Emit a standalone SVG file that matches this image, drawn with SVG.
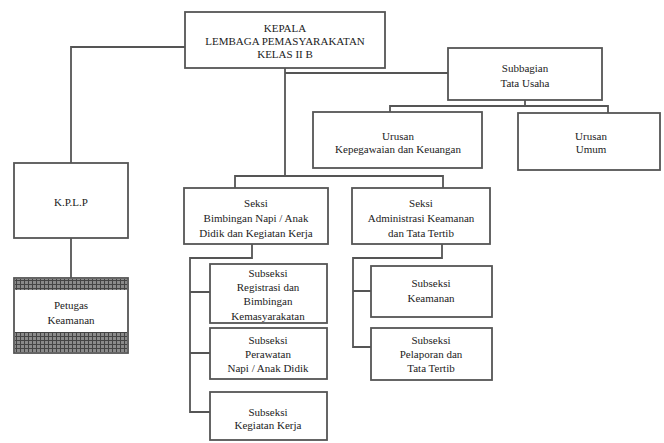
<svg xmlns="http://www.w3.org/2000/svg" width="664" height="443" viewBox="0 0 664 443">
<defs>
<pattern id="hatch" width="4" height="4" patternUnits="userSpaceOnUse">
<rect width="4" height="4" fill="#8a8a8a"/>
<path d="M0 0.5H4M0.5 0V4" stroke="#444" stroke-width="1"/>
</pattern>
</defs>
<style>
.box{fill:#fff;stroke:#555;stroke-width:1.8}
.t{font-family:"Liberation Serif","Times New Roman",serif;font-size:11px;fill:#222;text-anchor:middle}
.c{fill:none;stroke:#555;stroke-width:1.8}
</style>
<rect width="664" height="443" fill="#fff"/>
<g id="connectors">
<path class="c" d="M185 47H71V163"/>
<path class="c" d="M71 238V278"/>
<path class="c" d="M285 68V176"/>
<path class="c" d="M285 73H448"/>
<path class="c" d="M525 100V106M390 112V106H608V113"/>
<path class="c" d="M235 188V176H443V188"/>
<path class="c" d="M252 244V258H190V412H210M190 292H210M190 353H210"/>
<path class="c" d="M442 244V258H353V347H371M353 291H371"/>
</g>
<g id="kepala">
<rect class="box" x="185" y="12" width="200" height="56"/>
<text class="t" x="285" y="32">KEPALA</text>
<text class="t" x="285" y="45">LEMBAGA PEMASYARAKATAN</text>
<text class="t" x="285" y="58">KELAS II B</text>
</g>
<g id="subbagian">
<rect class="box" x="448" y="48" width="154" height="52"/>
<text class="t" x="525" y="72">Subbagian</text>
<text class="t" x="525" y="87">Tata Usaha</text>
</g>
<g id="urusan-kepegawaian">
<rect class="box" x="313" y="112" width="169" height="56"/>
<text class="t" x="398" y="140">Urusan</text>
<text class="t" x="398" y="153">Kepegawaian dan Keuangan</text>
</g>
<g id="urusan-umum">
<rect class="box" x="518" y="113" width="142" height="57"/>
<text class="t" x="591" y="140">Urusan</text>
<text class="t" x="591" y="153">Umum</text>
</g>
<g id="kplp">
<rect class="box" x="14" y="163" width="114" height="75"/>
<text class="t" x="71" y="206">K.P.L.P</text>
</g>
<g id="petugas-keamanan">
<rect class="box" x="14" y="278" width="114" height="75"/>
<rect x="15" y="279" width="112" height="11" fill="url(#hatch)"/>
<rect x="15" y="332" width="112" height="20" fill="url(#hatch)"/>
<text class="t" x="71" y="309">Petugas</text>
<text class="t" x="71" y="324">Keamanan</text>
</g>
<g id="seksi-bimbingan">
<rect class="box" x="184" y="188" width="144" height="56"/>
<text class="t" x="256" y="207">Seksi</text>
<text class="t" x="256" y="222">Bimbingan Napi / Anak</text>
<text class="t" x="256" y="237">Didik dan Kegiatan Kerja</text>
</g>
<g id="seksi-administrasi">
<rect class="box" x="352" y="188" width="138" height="56"/>
<text class="t" x="421" y="207">Seksi</text>
<text class="t" x="421" y="222">Administrasi Keamanan</text>
<text class="t" x="421" y="237">dan Tata Tertib</text>
</g>
<g id="subseksi-registrasi">
<rect class="box" x="210" y="264" width="117" height="59"/>
<text class="t" x="268" y="277">Subseksi</text>
<text class="t" x="268" y="291">Registrasi  dan</text>
<text class="t" x="268" y="305">Bimbingan</text>
<text class="t" x="268" y="320">Kemasyarakatan</text>
</g>
<g id="subseksi-perawatan">
<rect class="box" x="210" y="328" width="117" height="51"/>
<text class="t" x="268" y="344">Subseksi</text>
<text class="t" x="268" y="358">Perawatan</text>
<text class="t" x="268" y="372">Napi / Anak Didik</text>
</g>
<g id="subseksi-kegiatan">
<rect class="box" x="210" y="392" width="117" height="48"/>
<text class="t" x="268" y="416">Subseksi</text>
<text class="t" x="268" y="429">Kegiatan Kerja</text>
</g>
<g id="subseksi-keamanan">
<rect class="box" x="371" y="266" width="121" height="51"/>
<text class="t" x="431" y="287">Subseksi</text>
<text class="t" x="431" y="302">Keamanan</text>
</g>
<g id="subseksi-pelaporan">
<rect class="box" x="371" y="328" width="121" height="52"/>
<text class="t" x="431" y="344">Subseksi</text>
<text class="t" x="431" y="358">Pelaporan dan</text>
<text class="t" x="431" y="372">Tata Tertib</text>
</g>
</svg>
